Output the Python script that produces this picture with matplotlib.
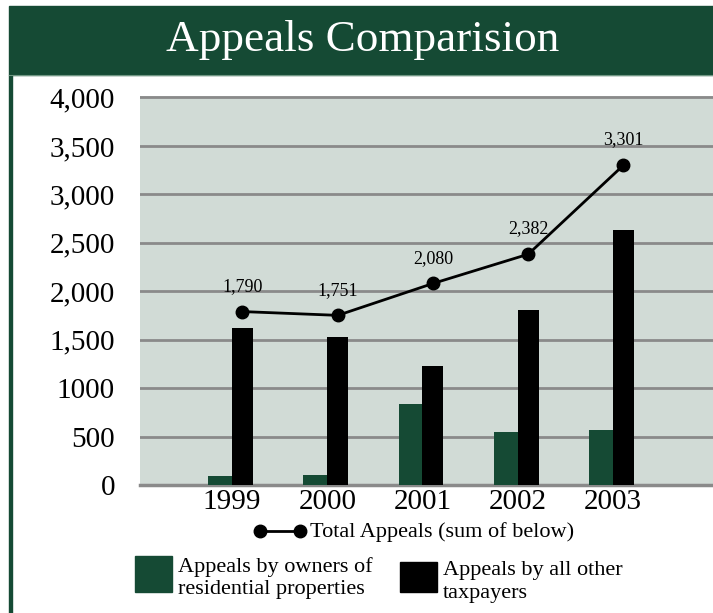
import matplotlib
matplotlib.use('Agg')
import matplotlib.pyplot as plt
import numpy as np
from matplotlib.lines import Line2D
from matplotlib.patches import Rectangle

years = ['1999', '2000', '2001', '2002', '2003']
residential = [90, 100, 840, 545, 565]
other = [1620, 1525, 1230, 1805, 2630]
totals = [1790, 1751, 2080, 2382, 3301]
y_ticks = [0, 500, 1000, 1500, 2000, 2500, 3000, 3500, 4000]
y_tick_labels = ['0', '500', '1000', '1,500', '2,000', '2,500', '3,000', '3,500', '4,000']

GREEN = '#154a34'
BG = '#d1dbd6'
GRID = '#8a8a8a'

plt.rcParams['font.family'] = ['Liberation Serif', 'DejaVu Serif']

W, H = 713, 613
fig = plt.figure(figsize=(W/100, H/100), dpi=100)
fig.patch.set_facecolor('white')

# title bar + left border
fig.add_artist(Rectangle((9/W, 1-75/H), 1, 69/H, color=GREEN, transform=fig.transFigure, zorder=0))
fig.add_artist(Line2D([9/W, 1], [1-74.5/H]*2, color='#6f9682', lw=0.8, transform=fig.transFigure))
fig.add_artist(Rectangle((9/W, 0), 3/W, 1-75/H, color=GREEN, transform=fig.transFigure, zorder=0))
fig.text(0.508, 1-40/H, 'Appeals Comparision', color='white', fontsize=32.5, ha='center', va='center')

ax = fig.add_axes([140/W, 128/H, 573/W, 389/H])
ax.set_facecolor(BG)

x = np.arange(len(years))
ax.bar(x-0.125, residential, 0.25, color=GREEN, zorder=2)
ax.bar(x+0.11, other, 0.22, color='black', zorder=2)
ax.plot(x+0.11, totals, 'o-', color='black', lw=2, ms=9, zorder=3)
for xi, t in zip(x, totals):
    ax.annotate(f'{t:,}', (xi+0.11, t), xytext=(0, 12), textcoords='offset points',
                ha='center', va='bottom', fontsize=13)
ax.axhline(0, color=GRID, lw=2.5, clip_on=False, zorder=1.5)

ax.set_xlim(-0.966, 5.05)
ax.set_ylim(0, 4015)
ax.set_yticks(y_ticks)
ax.set_yticklabels(y_tick_labels, fontsize=21)
ax.set_xticks(x)
ax.set_xticklabels(years, fontsize=21)
ax.tick_params(length=0)
ax.tick_params(axis='y', pad=18)
ax.tick_params(axis='x', pad=3)
for s in ax.spines.values():
    s.set_visible(False)
ax.grid(axis='y', color=GRID, lw=2)
ax.set_axisbelow(True)

# legend
fig.add_artist(Line2D([260/W, 300/W], [1-531/H]*2, color='black', lw=2, marker='o', ms=9,
                      transform=fig.transFigure))
fig.text(310/W, 1-532/H, 'Total Appeals (sum of below)', va='center', fontsize=16)
fig.add_artist(Rectangle((135/W, 1-592/H), 37/W, 36/H, color=GREEN, transform=fig.transFigure))
fig.text(178/W, 1-578/H, 'Appeals by owners of\nresidential properties', va='center',
         fontsize=16, linespacing=1.25)
fig.add_artist(Rectangle((400/W, 1-592/H), 37/W, 30/H, color='black', transform=fig.transFigure))
fig.text(443/W, 1-582/H, 'Appeals by all other\ntaxpayers', va='center',
         fontsize=16, linespacing=1.25)

fig.savefig('out.png', dpi=100)
